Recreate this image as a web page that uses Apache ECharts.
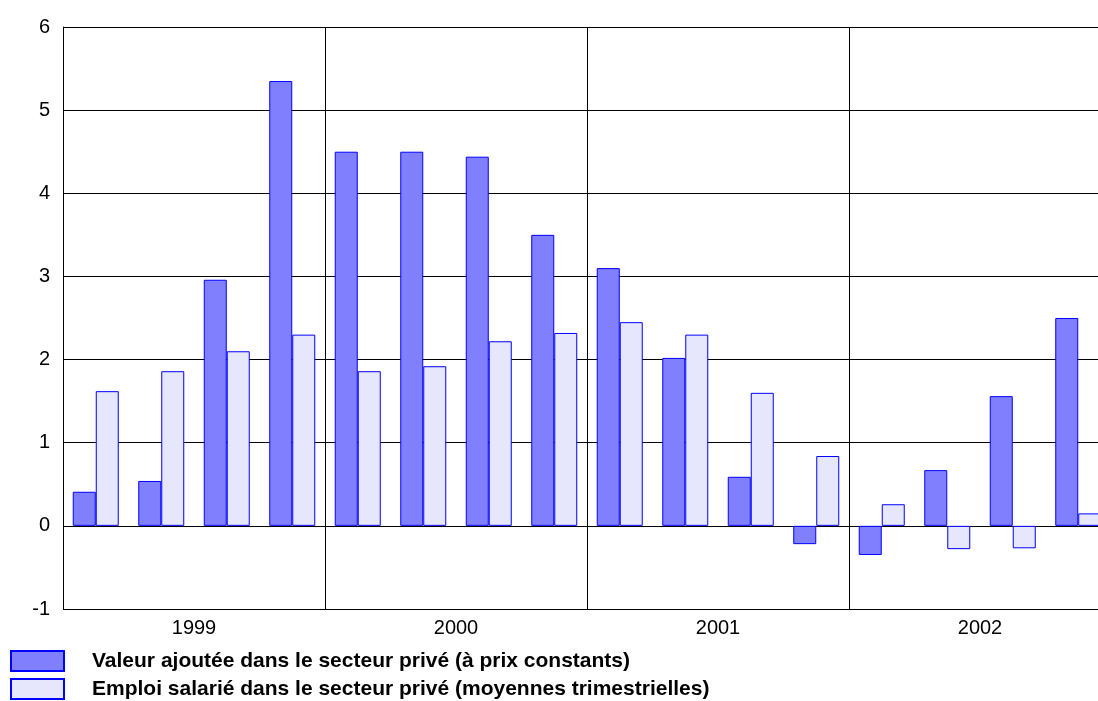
<!DOCTYPE html>
<html>
<head>
<meta charset="utf-8">
<script src="https://cdn.jsdelivr.net/npm/echarts@6/dist/echarts.min.js"></script>
<style>
  html, body { margin: 0; padding: 0; background: #ffffff; }
  #chart { width: 1098px; height: 701px; }
</style>
</head>
<body>
<div id="chart"></div>
<script>
// Quarterly categories (4 quarters per year) and the year band labels
const quarters = ['1999T1','1999T2','1999T3','1999T4','2000T1','2000T2','2000T3','2000T4',
                  '2001T1','2001T2','2001T3','2001T4','2002T1','2002T2','2002T3','2002T4'];
const years = ['1999', '2000', '2001', '2002'];

// Year-on-year growth, in %
const valeurAjoutee = [0.41, 0.54, 2.96, 5.35, 4.50, 4.50, 4.44, 3.50,
                       3.10, 2.02, 0.59, -0.22, -0.35, 0.67, 1.56, 2.50];
const emploiSalarie = [1.62, 1.86, 2.10, 2.30, 1.86, 1.92, 2.22, 2.32,
                       2.45, 2.30, 1.60, 0.84, 0.26, -0.28, -0.27, 0.15];

const seriesNames = [
  'Valeur ajoutée dans le secteur privé (à prix constants)',
  'Emploi salarié dans le secteur privé (moyennes trimestrielles)'
];

const FONT = "'Liberation Sans', Arial, sans-serif";
const chart = echarts.init(document.getElementById('chart'), null, { renderer: 'canvas' });

chart.setOption({
  backgroundColor: '#ffffff',
  animation: false,
  textStyle: { fontFamily: FONT },
  // the plot runs a little past the right edge of the page
  grid: { left: 63, top: 27, width: 1048, height: 582, containLabel: false, outerBoundsMode: 'none' },
  legend: {
    orient: 'vertical',
    left: 10,
    top: 650,
    padding: 0,
    icon: 'rect',
    itemWidth: 53,
    itemHeight: 20,
    itemGap: 6,
    selectedMode: false,
    data: seriesNames,
    textStyle: {
      fontFamily: FONT,
      fontSize: 21,
      lineHeight: 16,
      fontWeight: 'bold',
      color: '#000000',
      padding: [4, 0, 0, 23]
    }
  },
  xAxis: [
    {
      type: 'category',
      data: quarters,
      show: false
    },
    {
      type: 'category',
      data: years,
      position: 'bottom',
      axisLine: { show: false },
      axisTick: { show: false },
      axisLabel: { color: '#000000', fontSize: 20, fontFamily: FONT, margin: 9 },
      splitLine: { show: true, lineStyle: { color: '#000000', width: 1 } }
    }
  ],
  yAxis: {
    type: 'value',
    min: -1,
    max: 6,
    interval: 1,
    axisLine: { show: true, lineStyle: { color: '#000000', width: 1 } },
    axisTick: { show: false },
    axisLabel: { color: '#000000', fontSize: 20, fontFamily: FONT, margin: 13 },
    splitLine: { show: true, lineStyle: { color: '#000000', width: 1 } }
  },
  series: [
    {
      name: seriesNames[0],
      type: 'bar',
      xAxisIndex: 0,
      data: valeurAjoutee,
      barWidth: 23,
      barGap: '0%',
      itemStyle: { color: '#8080FF', borderColor: '#0000FF', borderWidth: 1 }
    },
    {
      name: seriesNames[1],
      type: 'bar',
      xAxisIndex: 0,
      data: emploiSalarie,
      barWidth: 23,
      barGap: '0%',
      itemStyle: { color: '#E6E6FC', borderColor: '#0000FF', borderWidth: 1 }
    }
  ]
});
</script>
</body>
</html>
